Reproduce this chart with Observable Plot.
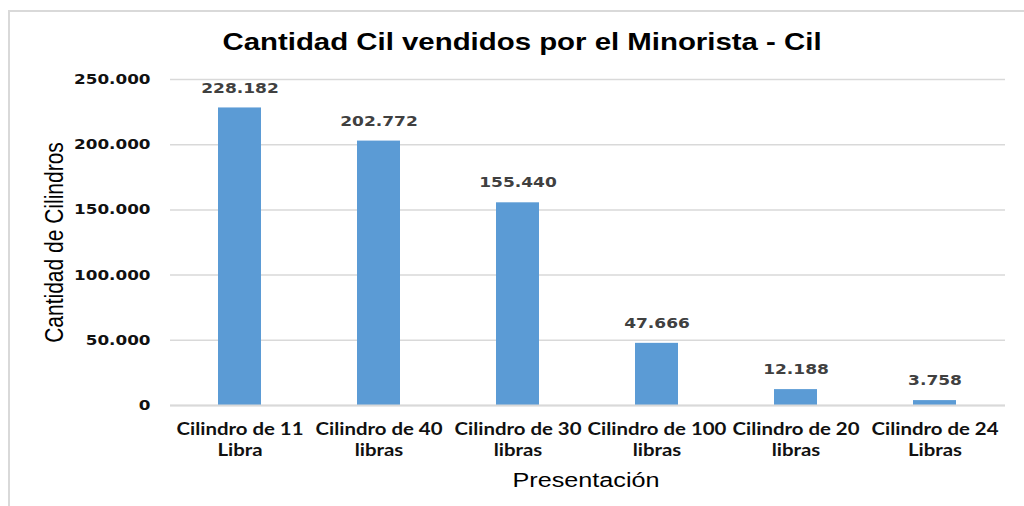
<!DOCTYPE html>
<html>
<head>
<meta charset="utf-8">
<script src="https://cdn.jsdelivr.net/npm/d3@7"></script>
<script src="https://cdn.jsdelivr.net/npm/@observablehq/plot@0.6"></script>
<style>
  html, body { margin: 0; padding: 0; background: #fff; }
  #wrap { position: relative; width: 1024px; height: 506px; overflow: hidden; }
  #frame { position: absolute; left: 8px; top: 10px; width: 1030px; height: 510px;
           border-top: 2px solid #d9d9d9; border-left: 2px solid #d9d9d9; box-sizing: border-box; }
  #chart { position: absolute; left: 0; top: 0; }
</style>
</head>
<body>
<div id="wrap"><div id="frame"></div><div id="chart"></div></div>
<script>
const categories = ["Cilindro de 11 Libra", "Cilindro de 40 libras", "Cilindro de 30 libras", "Cilindro de 100 libras", "Cilindro de 20 libras", "Cilindro de 24 Libras"];
const tickLines = [["Cilindro de 11", "Libra"], ["Cilindro de 40", "libras"], ["Cilindro de 30", "libras"], ["Cilindro de 100", "libras"], ["Cilindro de 20", "libras"], ["Cilindro de 24", "Libras"]];
const values = [228182, 202772, 155440, 47666, 12188, 3758];
const yTicks = [0, 50000, 100000, 150000, 200000, 250000];
const title = "Cantidad Cil vendidos por el Minorista - Cil";
const yTitle = "Cantidad de Cilindros";
const xTitle = "Presentación";

const data = categories.map((c, i) => ({cat: c, value: values[i]}));
const loc = d3.formatLocale({decimal: ",", thousands: ".", grouping: [3], currency: ["", ""]});
const fmt = loc.format(",d");
const lineMap = new Map(categories.map((c, i) => [c, tickLines[i].join("\n")]));

const numFont = "'DejaVu Sans', Verdana, sans-serif";
const condFont = "Lato, 'Open Sans', sans-serif";
const sansFont = "'Liberation Sans', Arial, sans-serif";

const plot = Plot.plot({
  width: 1024,
  height: 506,
  marginLeft: 170,
  marginRight: 19,
  marginTop: 79,
  marginBottom: 101,
  style: {background: "transparent", overflow: "visible"},
  x: {domain: categories, paddingInner: 0.69, paddingOuter: 0.345, label: null},
  y: {domain: [0, 250000], label: null},
  marks: [
    Plot.gridY(yTicks, {stroke: "#d9d9d9", strokeOpacity: 1, strokeWidth: 1.5}),
    Plot.barY(data, {x: "cat", y: "value", fill: "#5b9bd5"}),
    Plot.ruleY([0], {stroke: "#d9d9d9", strokeWidth: 2}),
    Plot.text(data, {x: "cat", y: "value", text: d => fmt(d.value), dy: -20, fill: "#404040",
      fontSize: 14.2, fontWeight: "bold", fontFamily: numFont}),
    Plot.axisY({ticks: yTicks, tickFormat: fmt, tickSize: 0, tickPadding: 20, fontSize: 14,
      fontWeight: "bold", fontFamily: numFont, color: "#111", label: null}),
    Plot.axisX({tickFormat: d => lineMap.get(d), tickSize: 0, tickPadding: 14, fontSize: 17,
      fontWeight: "bold", fontFamily: condFont, lineHeight: 1.25, color: "#111", label: null}),
    Plot.text([title], {frameAnchor: "top", dx: -66, dy: -37, lineAnchor: "middle", fontSize: 24.5,
      fontWeight: "bold", fontFamily: sansFont, fill: "#000"}),
    Plot.text([yTitle], {frameAnchor: "left", textAnchor: "middle", dx: -116, rotate: -90, lineAnchor: "middle", fontSize: 21,
      fontFamily: sansFont, fill: "#000"}),
    Plot.text([xTitle], {frameAnchor: "bottom", dx: -2, dy: 75, lineAnchor: "middle", fontSize: 21,
      fontFamily: sansFont, fill: "#000"})
  ]
});

// The reference picture is stretched horizontally; widen the glyphs about each text's anchor.
const SX = 1.2;
plot.querySelectorAll("text").forEach(t => {
  const tr = t.getAttribute("transform");
  if (tr) {
    if (tr.includes("rotate(")) t.setAttribute("transform", tr.replace("rotate(", `scale(${SX},1) rotate(`));
    else t.setAttribute("transform", `${tr} scale(${SX},1)`);
  }
});
document.getElementById("chart").appendChild(plot);
</script>
</body>
</html>
